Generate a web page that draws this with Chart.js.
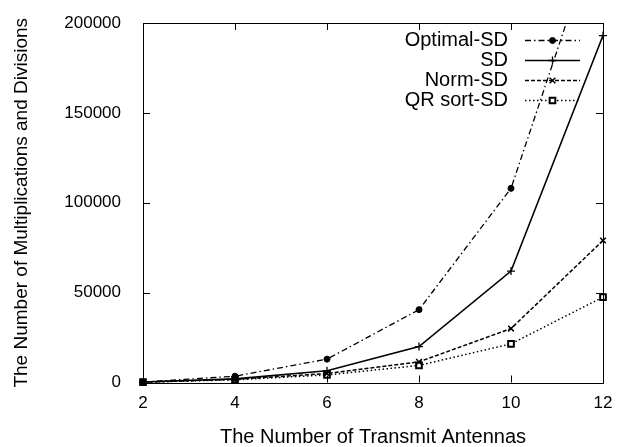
<!DOCTYPE html>
<html>
<head>
<meta charset="utf-8">
<script src="https://cdn.jsdelivr.net/npm/chart.js@4"></script>
<style>
	html, body { margin: 0; padding: 0; background: #fff; }
	#wrap { width: 631px; height: 447px; }
</style>
</head>
<body>
<div id="wrap"><canvas id="chart" width="631" height="447"></canvas></div>
<script>
// data
const antennas = [2, 4, 6, 8, 10, 12]
const optimalSD = [300, 3500, 13000, 40500, 108000, 261000]
const plainSD = [250, 2000, 6500, 20000, 62000, 193000]
const normSD = [200, 1800, 5000, 11500, 30000, 79000]
const qrSortSD = [200, 1500, 4200, 9500, 21500, 47500]
const seriesNames = ['Optimal-SD', 'SD', 'Norm-SD', 'QR sort-SD']
const yTicks = [0, 50000, 100000, 150000, 200000]

const toPoints = (vals) => vals.map((v, i) => ({ x: antennas[i], y: v }))
const FONT = 'Liberation Sans, Arial, sans-serif'

//inward tick marks + frame, like gnuplot
const frameTicks = {
	id: 'frameTicks',
	afterDatasetsDraw(chart) {
		const { ctx, chartArea: a, scales } = chart
		ctx.save()
		ctx.strokeStyle = '#000'
		ctx.lineWidth = 1
		ctx.beginPath()
		scales.x.ticks.forEach((t) => {
			const px = Math.round(scales.x.getPixelForValue(t.value)) + 0.5
			ctx.moveTo(px, a.bottom); ctx.lineTo(px, a.bottom - 7)
			ctx.moveTo(px, a.top); ctx.lineTo(px, a.top + 7)
		})
		scales.y.ticks.forEach((t) => {
			const py = Math.round(scales.y.getPixelForValue(t.value)) + 0.5
			ctx.moveTo(a.left, py); ctx.lineTo(a.left + 7, py)
			ctx.moveTo(a.right, py); ctx.lineTo(a.right - 7, py)
		})
		ctx.stroke()
		ctx.strokeRect(Math.round(a.left) + 0.5, Math.round(a.top) + 0.5,
			Math.round(a.right - a.left), Math.round(a.bottom - a.top))
		ctx.restore()
	}
}

//gnuplot style key: text right aligned, sample on the right
const keyBox = {
	id: 'keyBox',
	afterDraw(chart) {
		const { ctx } = chart
		const textRight = 508
		const sampleL = 525, sampleR = 580
		ctx.save()
		ctx.font = '20px ' + FONT
		ctx.textAlign = 'right'
		ctx.textBaseline = 'middle'
		chart.data.datasets.forEach((ds, i) => {
			const y = 40 + i * 20
			ctx.fillStyle = '#000'
			ctx.fillText(ds.label, textRight, y)
			ctx.strokeStyle = '#000'
			ctx.lineWidth = ds.borderWidth
			ctx.setLineDash(ds.borderDash || [])
			ctx.beginPath()
			ctx.moveTo(sampleL, y + 0.5)
			ctx.lineTo(sampleR, y + 0.5)
			ctx.stroke()
			ctx.setLineDash([])
			ctx.fillStyle = ds.pointBackgroundColor
			ctx.lineWidth = ds.pointBorderWidth
			Chart.helpers.drawPoint(ctx, {
				pointStyle: ds.pointStyle,
				radius: ds.pointRadius,
				borderWidth: ds.pointBorderWidth,
				rotation: 0
			}, (sampleL + sampleR) / 2, y + 0.5)
		})
		ctx.restore()
	}
}

const clipArea = { left: 10, right: 10, top: 0, bottom: 10 }

new Chart(document.getElementById('chart'), {
	type: 'line',
	data: {
		datasets: [
			{
				label: seriesNames[0], data: toPoints(optimalSD),
				borderColor: '#000', borderWidth: 1.3, borderDash: [6, 3, 1.5, 3],
				pointStyle: 'circle', pointRadius: 3, pointBackgroundColor: '#000',
				pointBorderColor: '#000', pointBorderWidth: 1, clip: clipArea
			},
			{
				label: seriesNames[1], data: toPoints(plainSD),
				borderColor: '#000', borderWidth: 1.6, borderDash: [],
				pointStyle: 'cross', pointRadius: 4, pointBackgroundColor: '#000',
				pointBorderColor: '#000', pointBorderWidth: 1.3, clip: clipArea
			},
			{
				label: seriesNames[2], data: toPoints(normSD),
				borderColor: '#000', borderWidth: 1.5, borderDash: [4, 2],
				pointStyle: 'crossRot', pointRadius: 4, pointBackgroundColor: '#000',
				pointBorderColor: '#000', pointBorderWidth: 1.5, clip: clipArea
			},
			{
				label: seriesNames[3], data: toPoints(qrSortSD),
				borderColor: '#000', borderWidth: 1.5, borderDash: [1.5, 2.5],
				pointStyle: 'rect', pointRadius: 4, pointBackgroundColor: '#fff',
				pointBorderColor: '#000', pointBorderWidth: 2, clip: clipArea
			}
		]
	},
	options: {
		responsive: false,
		animation: false,
		events: [],
		layout: { padding: { left: 0, top: 23, right: 28, bottom: 0 } },
		plugins: {
			legend: { display: false },
			tooltip: { enabled: false }
		},
		elements: { line: { tension: 0 } },
		scales: {
			x: {
				type: 'linear', min: 2, max: 12,
				afterFit: (s) => { s.height = 64.5 },
				ticks: { stepSize: 2, padding: 11, color: '#000', font: { family: FONT, size: 17 }, maxRotation: 0 },
				grid: { display: false, drawTicks: false },
				border: { display: false },
				title: { display: true, text: 'The Number of Transmit Antennas', color: '#000',
					font: { family: FONT, size: 20, lineHeight: 1 }, padding: { top: 0, bottom: 0 } }
			},
			y: {
				type: 'linear', min: 0, max: 200000,
				afterFit: (s) => { s.width = 143; s.paddingTop = 0; s.paddingBottom = 0 },
				afterBuildTicks: (s) => { s.ticks = yTicks.map((v) => ({ value: v })) },
				ticks: { padding: 22, color: '#000', font: { family: FONT, size: 17 }, callback: (v) => String(v) },
				grid: { display: false, drawTicks: false },
				border: { display: false },
				title: { display: true, text: 'The Number of Multiplications and Divisions', color: '#000',
					font: { family: FONT, size: 19 }, padding: { top: 10, bottom: 0 } }
			}
		}
	},
	plugins: [frameTicks, keyBox]
})
</script>
</body>
</html>
